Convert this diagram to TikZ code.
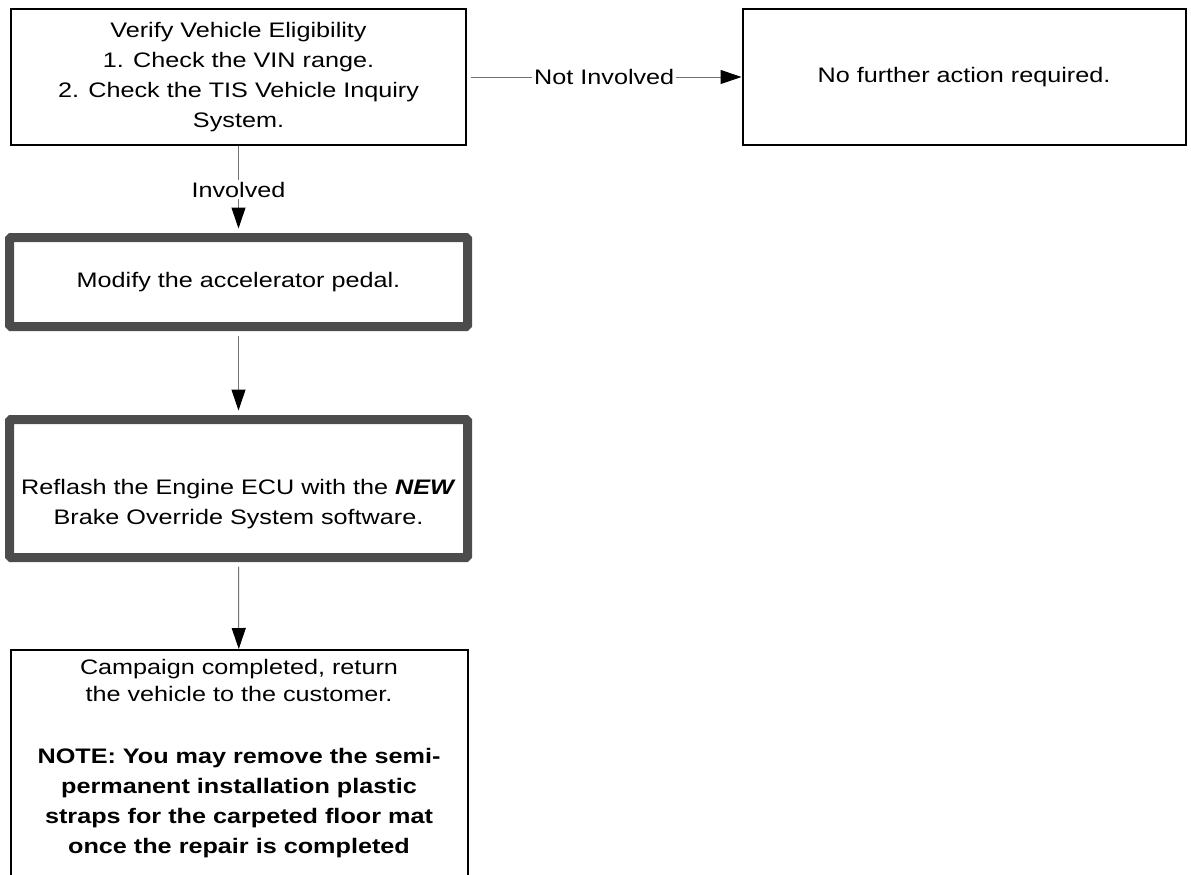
\documentclass[tikz,border=0pt]{standalone}
\usepackage{fontspec}
\setmainfont{Liberation Sans}[FakeStretch=1.2]
\usetikzlibrary{arrows.meta}

\tikzset{
    txt/.style={font=\fontsize{21}{30}\selectfont},
    stepbox/.style={txt, draw, line width=2pt, align=center},
    modbox/.style={txt, draw=black!70, line width=9pt, rounded corners=1.5pt, align=center},
    link/.style={draw=black!55, line width=1pt, -{Triangle[length=21pt,width=14pt,color=black,fill=black]}},
    lbl/.style={txt, fill=white, inner sep=2pt}
}

\begin{document}
\begin{tikzpicture}[x=1pt, y=-1pt]
    \useasboundingbox (0,0) rectangle (1191,875);
    \clip (0,0) rectangle (1191,875);

    % Steps
    \node[stepbox, minimum width=455pt, minimum height=136pt] (verify) at (238.5,77)
        {Verify Vehicle Eligibility\\1. Check the VIN range.\\2. Check the TIS Vehicle Inquiry\\System.};
    \node[stepbox, minimum width=443pt, minimum height=136pt] (done) at (964,77)
        {No further action required.};
    \node[modbox, minimum width=458pt, minimum height=89pt] (modify) at (238.5,282)
        {Modify the accelerator pedal.};
    \node[modbox, minimum width=458pt, minimum height=138pt] (reflash) at (238.5,488.5)
        {\rule{0pt}{47pt}Reflash the Engine ECU with the \textbf{\textit{NEW}}\\Brake Override System software.};
    \node[stepbox, anchor=north, minimum width=457pt, inner ysep=9pt] (finish) at (239,649)
        {Campaign completed, return\\[-3pt]the vehicle to the customer.\\[32pt]
         \textbf{NOTE: You may remove the semi-}\\\textbf{permanent installation plastic}\\
         \textbf{straps for the carpeted floor mat}\\\textbf{once the repair is completed}\\[20pt]\mbox{}};

    % Connectors
    \draw[link, shorten <=4pt] (verify) -- node[lbl] {Not Involved} (done);
    \draw[link, shorten >=4.5pt] (verify) -- node[lbl] {Involved} (modify);
    \draw[link, shorten <=4.5pt, shorten >=4.5pt] (modify) -- (reflash);
    \draw[link, shorten <=4.5pt] (reflash) -- (finish);
\end{tikzpicture}
\end{document}
